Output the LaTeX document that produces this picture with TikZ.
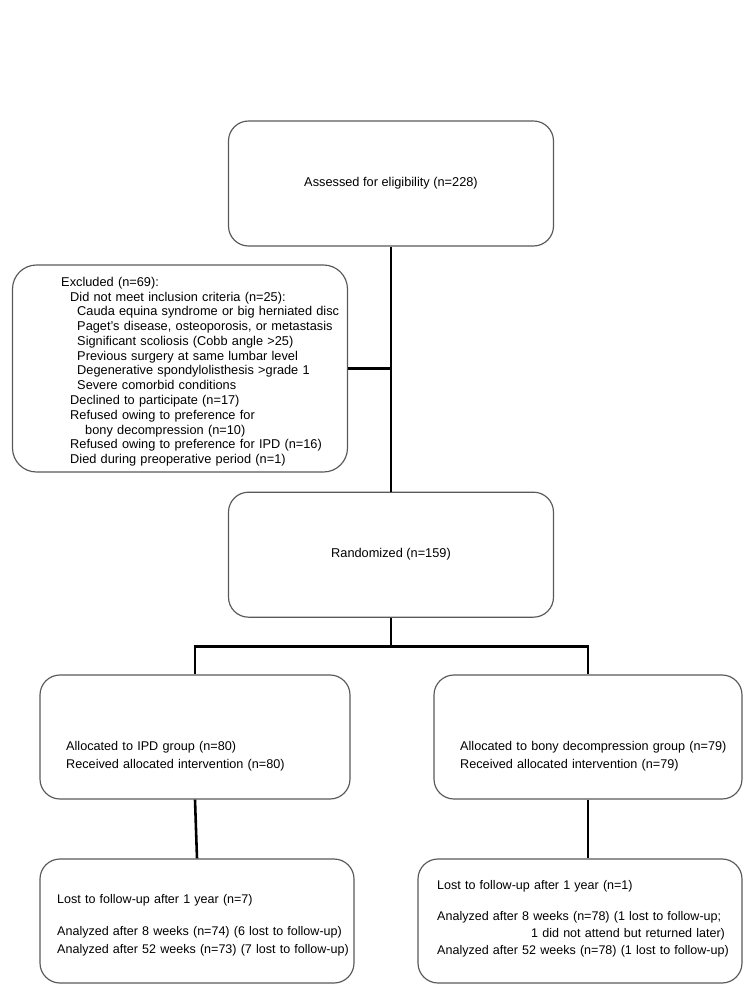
\documentclass[tikz,border=0pt]{standalone}
\usepackage{fontspec}
\setmainfont{Liberation Sans}
\usetikzlibrary{positioning, calc}

\begin{document}
\begin{tikzpicture}[font=\fontsize{10.9}{12.6}\selectfont,
	box/.style={draw=black!65, line width=1pt, rounded corners=0.6cm, minimum height=3.72cm, inner sep=0pt},
	txt/.style={anchor=west, align=left, inner sep=0pt, text width=9cm},
	link/.style={line width=2.2pt, black}]

	\useasboundingbox (0,0) rectangle (22.68,-30.24);

	% Cribado y aleatorizacion
	\node[box, minimum width=9.75cm, minimum height=3.75cm] (assess) at (11.73,-5.505) {Assessed for eligibility (n=228)};
	\node[box, minimum width=9.75cm, minimum height=3.75cm, below=7.35cm of assess] (rand) {Randomized (n=159)};
	\node[box, minimum width=10.05cm, minimum height=6.21cm, rounded corners=0.72cm] (excl) at (5.4,-11.055) {};
	\node[txt] (excl_txt) at (1.83,-11.15) {Excluded (n=69):\\
		\hspace*{0.27cm}Did not meet inclusion criteria (n=25):\\
		\hspace*{0.48cm}Cauda equina syndrome or big herniated disc\\
		\hspace*{0.48cm}Paget's disease, osteoporosis, or metastasis\\
		\hspace*{0.48cm}Significant scoliosis (Cobb angle >25)\\
		\hspace*{0.48cm}Previous surgery at same lumbar level\\
		\hspace*{0.48cm}Degenerative spondylolisthesis >grade 1\\
		\hspace*{0.48cm}Severe comorbid conditions\\
		\hspace*{0.27cm}Declined to participate (n=17)\\
		\hspace*{0.27cm}Refused owing to preference for\\
		\hspace*{0.72cm}bony decompression (n=10)\\
		\hspace*{0.27cm}Refused owing to preference for IPD (n=16)\\
		\hspace*{0.27cm}Died during preoperative period (n=1)};

	% Grupos
	\node[box, minimum width=9.3cm] (ipd) at (5.85,-22.11) {};
	\node[box, minimum width=9.24cm] (bony) at (17.64,-22.11) {};
	\node[txt, font=\fontsize{10.8}{15.2}\selectfont] (ipd_txt) at (1.98,-22.68) {Allocated to IPD group (n=80)\\Received allocated intervention (n=80)};
	\node[txt, font=\fontsize{10.8}{15.2}\selectfont] (bony_txt) at (13.8,-22.68) {Allocated to bony decompression group (n=79)\\Received allocated intervention (n=79)};

	% Seguimiento
	\node[box, minimum width=9.42cm] (lost_ipd) at (5.91,-27.63) {};
	\node[box, minimum width=9.72cm] (lost_bony) at (17.4,-27.63) {};
	\node[txt, font=\fontsize{10.7}{15.2}\selectfont] (lost_ipd_txt) at (1.71,-27.75) {Lost to follow-up after 1 year (n=7)\\[12pt]
		Analyzed after 8 weeks (n=74) (6 lost to follow-up)\\
		Analyzed after 52 weeks (n=73) (7 lost to follow-up)};
	\node[txt, font=\fontsize{10.7}{14.5}\selectfont] (lost_bony_txt) at (13.11,-27.56) {Lost to follow-up after 1 year (n=1)\\[12pt]
		Analyzed after 8 weeks (n=78) (1 lost to follow-up;\\
		\hspace*{2.82cm}1 did not attend but returned later)\\
		Analyzed after 52 weeks (n=78) (1 lost to follow-up)};

	% Conexiones
	\coordinate (split) at ($(rand.south)+(0,-0.87)$);
	\draw[link] (assess) -- (rand);
	\draw[link] (excl.east) -- (excl.east -| assess.south);
	\draw[link] (rand.south) -- (split);
	\draw[link] (ipd.north) |- (split) -| (bony.north);
	\draw[link] (ipd.south) -- (lost_ipd.north);
	\draw[link] (bony.south) -- (bony.south |- lost_bony.north);
\end{tikzpicture}
\end{document}
